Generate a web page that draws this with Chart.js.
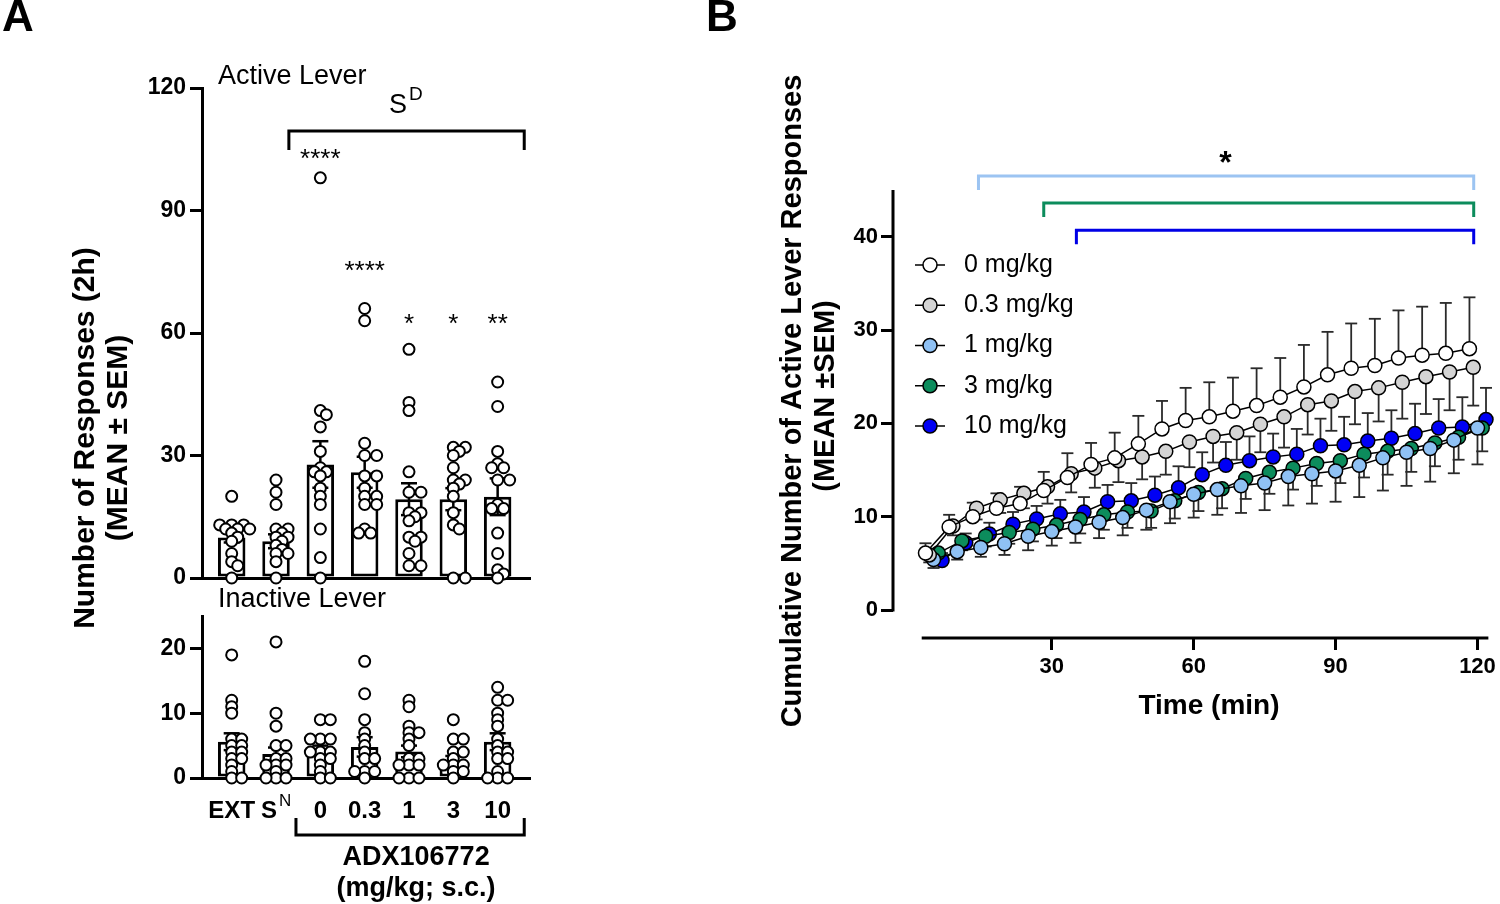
<!DOCTYPE html>
<html>
<head>
<meta charset="utf-8">
<script src="https://cdn.jsdelivr.net/npm/chart.js@4.4.1/dist/chart.umd.min.js"></script>
<style>
  html, body { margin: 0; padding: 0; background: #fff; }
  #wrap { position: relative; width: 1500px; height: 904px; }
  #wrap canvas { position: absolute; left: 0; top: 0; }
</style>
</head>
<body>
<div id="wrap">
  <canvas id="active" width="1500" height="904"></canvas>
  <canvas id="inactive" width="1500" height="904"></canvas>
  <canvas id="timecourse" width="1500" height="904"></canvas>
</div>
<script>
'use strict'

// ---------- panel A: lever responses per group ----------
const groups = ['EXT', 'S', '0', '0.3', '1', '3', '10'];
const groupSup = ['', 'N', '', '', '', '', ''];

const activeTicks = [0, 30, 60, 90, 120];
const activeMean = [9.9, 9.0, 27.8, 25.9, 19.3, 19.3, 19.9];
const activeSem = [1.2, 1.7, 5.7, 3.8, 3.9, 2.7, 4.5];
const activeDots = [
  [20, 13, 13, 13, 12, 12, 12, 11, 10, 9, 6, 4, 3, 0],
  [24, 21, 18, 12, 12, 11, 10, 10, 9, 8, 7, 6, 6, 4, 0],
  [98, 41, 40, 37, 31, 27, 26, 26, 25, 22, 20, 18, 12, 5, 0],
  [66, 63, 33, 30, 30, 25, 25, 22, 20, 20, 18, 18, 12, 11, 11],
  [56, 43, 41, 26, 21, 21, 16, 16, 15, 14, 10, 10, 9, 6, 3, 3],
  [32, 32, 31, 30, 27, 24, 24, 23, 22, 20, 16, 13, 12, 0, 0],
  [48, 42, 31, 28, 27, 27, 24, 24, 18, 17, 17, 11, 6, 2, 1, 0]
];
const activeStars = ['', '', '****', '****', '*', '*', '**'];
const activeStarAt = [null, null, 104, 76.5, 63.5, 63.5, 63.5];

const inactiveTicks = [0, 10, 20];
const inactiveMean = [5.6, 3.7, 4.3, 4.8, 4.1, 2.8, 5.6];
const inactiveSem = [1.3, 1.0, 0.7, 1.5, 0.9, 0.6, 1.3];
const inactiveDots = [
  [19, 12, 11, 10, 6, 6, 5, 5, 4, 4, 3, 3, 2, 1, 0, 0],
  [21, 10, 8, 5, 5, 3, 3, 2, 2, 2, 1, 0, 0, 0],
  [9, 9, 6, 6, 6, 4, 4, 4, 3, 3, 2, 1, 0, 0],
  [18, 13, 9, 7, 6, 5, 4, 3, 3, 1, 1, 1, 0],
  [12, 11, 8, 7, 7, 6, 5, 3, 3, 2, 2, 2, 0, 0, 0],
  [9, 6, 6, 4, 4, 3, 2, 2, 2, 1, 1, 0],
  [14, 12, 12, 10, 9, 8, 6, 5, 4, 4, 3, 3, 1, 0, 0, 0]
];

// ---------- panel B: cumulative active lever responses ----------
const timeMin = [5, 10, 15, 20, 25, 30, 35, 40, 45, 50, 55, 60, 65, 70, 75, 80, 85, 90, 95, 100, 105, 110, 115, 120];
const timeTicks = [30, 60, 90, 120];
const cumTicks = [0, 10, 20, 30, 40];
const doseLabels = ['0 mg/kg', '0.3 mg/kg', '1 mg/kg', '3 mg/kg', '10 mg/kg'];

const dose0 = [6.1, 8.9, 10.0, 10.9, 11.4, 12.8, 14.2, 15.6, 16.3, 17.8, 19.4, 20.3, 20.7, 21.3, 21.9, 22.8, 23.9, 25.2, 25.9, 26.2, 27.0, 27.3, 27.5, 28.0];
const dose03 = [5.9, 9.0, 10.9, 11.8, 12.5, 13.2, 14.6, 15.2, 16.0, 16.4, 17.0, 18.0, 18.6, 19.0, 19.9, 20.7, 22.0, 22.4, 23.4, 23.8, 24.4, 25.0, 25.5, 26.0];
const dose1 = [5.4, 6.25, 6.7, 7.1, 7.9, 8.4, 8.9, 9.4, 9.9, 10.7, 11.6, 12.4, 12.9, 13.3, 13.6, 14.3, 14.6, 14.9, 15.5, 16.3, 16.9, 17.3, 18.2, 19.5];
const dose3 = [6.1, 7.4, 7.9, 8.3, 8.65, 9.1, 9.7, 10.2, 10.5, 10.6, 11.7, 12.6, 13.0, 14.1, 14.75, 15.2, 15.7, 16.0, 16.7, 17.0, 17.3, 17.9, 18.5, 19.5];
const dose10 = [5.3, 7.2, 8.15, 9.2, 9.75, 10.3, 10.5, 11.6, 11.7, 12.3, 13.1, 14.5, 15.5, 16.0, 16.4, 16.7, 17.6, 17.7, 18.1, 18.4, 18.9, 19.5, 19.6, 20.4];

const sem0 = [1.05, 1.3, 1.5, 1.6, 1.8, 2.0, 2.6, 2.3, 2.7, 3.0, 3.0, 3.5, 3.7, 3.6, 4.0, 4.2, 4.5, 4.6, 4.8, 5.0, 5.1, 5.2, 5.4, 5.5];
const sem03 = [0.8, 1.0, 1.2, 1.4, 1.6, 1.8, 2.0, 2.1, 2.3, 2.4, 2.5, 2.7, 2.8, 2.9, 3.0, 3.3, 3.2, 3.2, 3.5, 3.6, 3.9, 4.0, 4.1, 4.1];
const sem1 = [0.9, 0.85, 1.0, 1.2, 1.5, 1.5, 1.7, 1.7, 1.9, 2.1, 2.3, 2.5, 2.7, 2.9, 2.9, 3.1, 3.2, 3.3, 3.4, 3.5, 3.6, 3.55, 3.55, 3.9];
const sem3 = [0.8, 1.0, 1.1, 1.2, 1.3, 1.4, 1.5, 1.6, 1.7, 1.8, 1.9, 2.0, 2.1, 2.2, 2.3, 2.3, 2.4, 2.4, 2.5, 2.5, 2.5, 2.5, 2.4, 2.5];
const sem10 = [0.8, 1.0, 1.2, 1.3, 1.4, 1.5, 1.6, 1.8, 1.9, 2.0, 2.3, 2.4, 2.5, 2.6, 2.5, 2.7, 2.9, 3.0, 3.0, 3.0, 3.2, 3.1, 3.2, 3.4];

// ---------- styling ----------
const FONT = "'Liberation Sans', Arial, Helvetica, sans-serif";
Chart.defaults.font.family = FONT;
Chart.defaults.color = '#000';
Chart.defaults.animation = false;

const doseColors = ['#ffffff', '#d4d4d4', '#8fc1f4', '#0c8c5c', '#0000f5'];
const doseShift = [-1.7, -0.9, 0, 1.0, 1.8];   // GraphPad-style nudge so points don't sit on top of each other
const errDir = [1, -1, -1, -1, 1];
const doseSeries = [dose0, dose03, dose1, dose3, dose10];
const doseSem = [sem0, sem03, sem1, sem3, sem10];

// significance brackets over panel B (x in min, y in responses)
const bBrackets = [
  { from: 14.5, to: 119.2, y: 46.5, color: '#9cc4f2' },
  { from: 28.3, to: 119.2, y: 43.6, color: '#0c8c5c' },
  { from: 35.2, to: 119.2, y: 40.7, color: '#0000e6' }
];

// ---------- helpers ----------
function padFor(left, top, right, bottom, yW, xH) {
  return { left: left - yW, top: top, right: 1500 - right, bottom: 904 - bottom - xH };
}

function txt(ctx, s, x, y, size, weight, align, rot) {
  ctx.save();
  ctx.translate(x, y);
  if (rot) ctx.rotate(rot);
  ctx.font = `${weight || 'normal'} ${size}px ${FONT}`;
  ctx.fillStyle = '#000';
  ctx.textAlign = align || 'center';
  ctx.textBaseline = 'middle';
  ctx.fillText(s, 0, 0);
  ctx.restore();
}

function supTxt(ctx, base, sup, cx, cy, size, weight) {
  ctx.save();
  ctx.fillStyle = '#000';
  ctx.textBaseline = 'middle';
  ctx.textAlign = 'left';
  ctx.font = `${weight} ${size}px ${FONT}`;
  const wb = ctx.measureText(base).width;
  const supFont = `normal ${Math.round(size * 0.72)}px ${FONT}`;
  ctx.font = supFont;
  const ws = sup ? ctx.measureText(sup).width + 2 : 0;
  const left = cx - (wb + ws) / 2;
  ctx.font = `${weight} ${size}px ${FONT}`;
  ctx.fillText(base, left, cy);
  if (sup) {
    ctx.font = supFont;
    ctx.fillText(sup, left + wb + 2, cy - size * 0.42);
  }
  ctx.restore();
}

function line(ctx, pts, w, color) {
  ctx.save();
  ctx.strokeStyle = color || '#000';
  ctx.lineWidth = w;
  ctx.lineCap = 'butt';
  ctx.lineJoin = 'miter';
  ctx.beginPath();
  pts.forEach((p, i) => i ? ctx.lineTo(p[0], p[1]) : ctx.moveTo(p[0], p[1]));
  ctx.stroke();
  ctx.restore();
}

function dotsToPoints(dots) {
  const pts = [];
  dots.forEach((vals, g) => vals.forEach(v => pts.push({ x: g, y: v })));
  return pts;
}

// spread dots sideways (beeswarm) after the scales have placed them
const swarm = {
  id: 'swarm',
  afterDatasetsUpdate(chart) {
    chart.data.datasets.forEach((ds, di) => {
      if (ds.type !== 'scatter') return;
      const gap = ds.swarmGap || 8, step = ds.swarmStep || 8;
      const meta = chart.getDatasetMeta(di);
      const byGroup = {};
      meta.data.forEach((el, i) => {
        const g = ds.data[i].x;
        (byGroup[g] = byGroup[g] || []).push(el);
      });
      Object.values(byGroup).forEach(els => {
        const placed = [];
        els.sort((a, b) => a.y - b.y);
        els.forEach(el => {
          const cx = el.x;
          for (let k = 0; k < 30; k++) {
            const off = (k % 2 ? 1 : -1) * Math.ceil(k / 2) * step;
            const x = cx + off;
            if (placed.every(p => Math.hypot(p.x - x, p.y - el.y) >= gap)) { el.x = x; break; }
          }
          placed.push(el);
        });
      });
    });
  }
};

function barErrors(chart, mean, sem) {
  const { ctx, scales: { x, y } } = chart;
  mean.forEach((m, i) => {
    const px = x.getPixelForValue(i);
    const t = y.getPixelForValue(m + sem[i]);
    const b = y.getPixelForValue(Math.max(0, m - sem[i]));
    line(ctx, [[px, t], [px, b]], 2.5);
    line(ctx, [[px - 8, t], [px + 8, t]], 2.5);
    line(ctx, [[px - 8, b], [px + 8, b]], 2.5);
  });
}

function yAxis(min, max, ticks, width) {
  return {
    min: min, max: max,
    afterFit: s => { s.width = width; },
    afterBuildTicks: s => { s.ticks = ticks.map(v => ({ value: v })); },
    border: { display: true, width: 3, color: '#000' },
    grid: { drawOnChartArea: false, drawTicks: true, tickLength: 12, tickWidth: 3, tickColor: '#000', lineWidth: 3 },
    ticks: { font: { size: 23, weight: 'bold' }, padding: 4, color: '#000' }
  };
}

function groupAxis() {
  return {
    type: 'linear', min: -0.67, max: 6.73, offset: false,
    afterFit: s => { s.height = 20; },
    border: { display: true, width: 3, color: '#000' },
    grid: { display: false, offset: false },
    ticks: { display: false }
  };
}

function groupDatasets(mean, dots, gap, step) {
  return [
    {
      type: 'scatter', data: dotsToPoints(dots), order: 1, clip: false,
      swarmGap: gap, swarmStep: step,
      pointRadius: 5.5, pointHoverRadius: 5.5,
      pointBackgroundColor: '#fff', pointBorderColor: '#000', pointBorderWidth: 2
    },
    {
      type: 'bar', data: mean.map((m, i) => ({ x: i, y: m })), order: 2, clip: false,
      backgroundColor: '#fff', borderColor: '#000', borderWidth: 3, borderSkipped: false,
      barPercentage: 0.62, categoryPercentage: 1
    }
  ];
}

// ---------- panel A top: active lever ----------
const activeDecor = {
  id: 'activeDecor',
  afterDatasetDraw(chart, args) {
    if (args.meta.type === 'bar') barErrors(chart, activeMean, activeSem);
  },
  afterDraw(chart) {
    const { ctx, chartArea: a, scales: { x, y } } = chart;
    txt(ctx, 'A', 18, 19, 44, 'bold');
    txt(ctx, 'Active Lever', a.left + 16, 77, 27, 'normal', 'left');
    supTxt(ctx, 'S', 'D', x.getPixelForValue(3.93), 106, 27, 'normal');
    const l = x.getPixelForValue(1.29), r = x.getPixelForValue(6.6);
    const yb = y.getPixelForValue(109.5), yd = y.getPixelForValue(104.8);
    line(ctx, [[l, yd], [l, yb], [r, yb], [r, yd]], 3);
    activeStars.forEach((s, i) => {
      if (s) txt(ctx, s, x.getPixelForValue(i), y.getPixelForValue(activeStarAt[i]) + 6, 26, 'normal');
    });
    txt(ctx, 'Number of Responses (2h)', 86, 438, 30, 'bold', 'center', -Math.PI / 2);
    txt(ctx, '(MEAN \u00b1 SEM)', 119, 438, 30, 'bold', 'center', -Math.PI / 2);
  }
};

new Chart(document.getElementById('active'), {
  type: 'bar',
  data: { datasets: groupDatasets(activeMean, activeDots, 7, 6) },
  options: {
    responsive: false,
    events: [],
    layout: { padding: padFor(202, 88, 530, 578, 70, 20) },
    plugins: { legend: { display: false }, tooltip: { enabled: false } },
    scales: { x: groupAxis(), y: yAxis(0, 120, activeTicks, 70) }
  },
  plugins: [swarm, activeDecor]
});

// ---------- panel A bottom: inactive lever ----------
const inactiveDecor = {
  id: 'inactiveDecor',
  afterDatasetDraw(chart, args) {
    if (args.meta.type === 'bar') barErrors(chart, inactiveMean, inactiveSem);
  },
  afterDraw(chart) {
    const { ctx, chartArea: a, scales: { x } } = chart;
    txt(ctx, 'Inactive Lever', a.left + 16, 600, 27, 'normal', 'left');
    groups.forEach((g, i) => supTxt(ctx, g, groupSup[i], x.getPixelForValue(i), a.bottom + 33, 24, 'bold'));
    const l = x.getPixelForValue(1.45), r = x.getPixelForValue(6.6);
    const yb = a.bottom + 57, yt = a.bottom + 40;
    line(ctx, [[l, yt], [l, yb], [r, yb], [r, yt]], 3);
    const cx = (l + r) / 2 + 6;
    txt(ctx, 'ADX106772', cx, a.bottom + 80, 27, 'bold');
    txt(ctx, '(mg/kg; s.c.)', cx, a.bottom + 111, 27, 'bold');
  }
};

new Chart(document.getElementById('inactive'), {
  type: 'bar',
  data: { datasets: groupDatasets(inactiveMean, inactiveDots, 6.3, 10) },
  options: {
    responsive: false,
    events: [],
    layout: { padding: padFor(202, 616, 530, 778, 70, 20) },
    plugins: { legend: { display: false }, tooltip: { enabled: false } },
    scales: { x: groupAxis(), y: yAxis(0, 25, inactiveTicks, 70) }
  },
  plugins: [swarm, inactiveDecor]
});

// ---------- panel B: time course ----------
const timeDecor = {
  id: 'timeDecor',
  beforeDatasetsDraw(chart) {
    const { ctx, scales: { x, y } } = chart;
    doseSeries.forEach((vals, s) => {
      vals.forEach((v, j) => {
        const px = x.getPixelForValue(timeMin[j] + doseShift[s]);
        const p0 = y.getPixelForValue(v);
        const p1 = y.getPixelForValue(v + errDir[s] * doseSem[s][j]);
        line(ctx, [[px, p0], [px, p1]], 1.8, '#2a2a2a');
        line(ctx, [[px - 6, p1], [px + 6, p1]], 1.8, '#2a2a2a');
      });
    });
  },
  afterDraw(chart) {
    const { ctx, scales: { x, y } } = chart;
    // offset axes, GraphPad style
    const yl = chart.chartArea.left, xb = chart.chartArea.bottom;
    line(ctx, [[yl, y.getPixelForValue(0) + 1.5], [yl, y.getPixelForValue(45)]], 3);
    line(ctx, [[x.getPixelForValue(2.5), xb], [chart.chartArea.right, xb]], 3);

    txt(ctx, 'B', 722, 19, 44, 'bold');
    txt(ctx, 'Cumulative Number of Active Lever Responses', 793, 401, 29, 'bold', 'center', -Math.PI / 2);
    txt(ctx, '(MEAN \u00b1SEM)', 826, 396, 29, 'bold', 'center', -Math.PI / 2);
    txt(ctx, 'Time (min)', 1209, 706, 28, 'bold');

    bBrackets.forEach(b => {
      const l = x.getPixelForValue(b.from), r = x.getPixelForValue(b.to);
      const yt = y.getPixelForValue(b.y), yd = y.getPixelForValue(b.y - 1.5);
      line(ctx, [[l, yd], [l, yt], [r, yt], [r, yd]], 3, b.color);
    });
    txt(ctx, '*', x.getPixelForValue(66.7), y.getPixelForValue(48.4) + 6, 32, 'bold');

    doseLabels.forEach((lab, i) => {
      const ly = 265 + i * 40.25;
      line(ctx, [[915, ly], [945, ly]], 1.5);
      ctx.save();
      ctx.beginPath();
      ctx.arc(930, ly, 7, 0, Math.PI * 2);
      ctx.fillStyle = doseColors[i];
      ctx.fill();
      ctx.lineWidth = 1.5;
      ctx.strokeStyle = '#000';
      ctx.stroke();
      ctx.restore();
      txt(ctx, lab, 964, ly, 25, 'normal', 'left');
    });
  }
};

new Chart(document.getElementById('timecourse'), {
  type: 'line',
  data: {
    datasets: doseSeries.map((vals, s) => ({
      label: doseLabels[s],
      data: vals.map((v, j) => ({ x: timeMin[j] + doseShift[s], y: v })),
      borderColor: '#000',
      borderWidth: 1.5,
      tension: 0,
      clip: false,
      pointRadius: 7,
      pointHoverRadius: 7,
      pointBackgroundColor: doseColors[s],
      pointBorderColor: '#000',
      pointBorderWidth: 1.5
    }))
  },
  options: {
    responsive: false,
    events: [],
    layout: { padding: padFor(893, 162, 1493, 638, 70, 50) },
    plugins: { legend: { display: false }, tooltip: { enabled: false } },
    scales: {
      x: {
        type: 'linear', min: -3.57, max: 122.3,
        afterFit: s => { s.height = 50; },
        afterBuildTicks: s => { s.ticks = timeTicks.map(v => ({ value: v })); },
        border: { display: false },
        grid: { drawOnChartArea: false, drawTicks: true, tickLength: 12, tickWidth: 3, tickColor: '#000', lineWidth: 3 },
        ticks: { font: { size: 22, weight: 'bold' }, padding: 4, color: '#000', maxRotation: 0 }
      },
      y: {
        min: -3, max: 48,
        afterFit: s => { s.width = 70; },
        afterBuildTicks: s => { s.ticks = cumTicks.map(v => ({ value: v })); },
        border: { display: false },
        grid: { drawOnChartArea: false, drawTicks: true, tickLength: 12, tickWidth: 3, tickColor: '#000', lineWidth: 3 },
        ticks: { font: { size: 22, weight: 'bold' }, padding: 3, color: '#000' }
      }
    }
  },
  plugins: [timeDecor]
});
</script>
</body>
</html>
